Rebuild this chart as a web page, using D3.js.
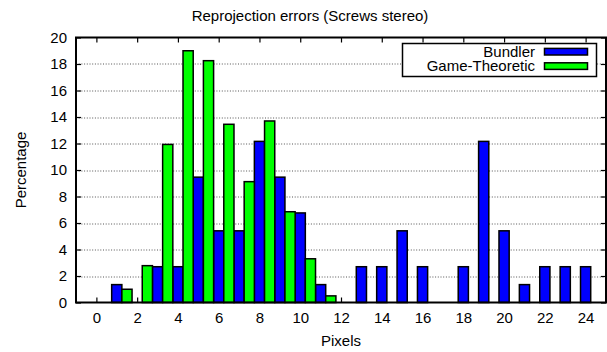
<!DOCTYPE html>
<html>
<head>
<meta charset="utf-8">
<script src="https://cdn.jsdelivr.net/npm/d3@7"></script>
<style>
  body { margin: 0; background: #fff; }
  text { font-family: "Liberation Sans", Arial, sans-serif; font-size: 15px; fill: #000; }
</style>
</head>
<body>
<div id="graph"></div>
<script>
// histogram bins (pixels) and percentages
const bins = [0, 1, 2, 3, 4, 5, 6, 7, 8, 9, 10, 11, 12, 13, 14, 15, 16, 17, 18, 19, 20, 21, 22, 23, 24];
const bundler = [0, 1.35, 0, 2.70, 2.70, 9.46, 5.41, 5.41, 12.16, 9.46, 6.76, 1.35, 0, 2.70, 2.70, 5.41, 2.70, 0, 2.70, 12.16, 5.41, 1.35, 2.70, 2.70, 2.70];
const gameTheoretic = [0, 1.0, 2.78, 11.93, 19.0, 18.25, 13.45, 9.12, 13.7, 6.85, 3.3, 0.5, 0, 0, 0, 0, 0, 0, 0, 0, 0, 0, 0, 0, 0];
const xTicks = [0, 2, 4, 6, 8, 10, 12, 14, 16, 18, 20, 22, 24];
const yTicks = [0, 2, 4, 6, 8, 10, 12, 14, 16, 18, 20];
const seriesNames = ["Bundler", "Game-Theoretic"];
const seriesColors = ["#0000ff", "#00ff00"];

let margin = {top: 37.5, right: 1, bottom: 49.5, left: 76},
    width = 607 - margin.left - margin.right,
    height = 352 - margin.top - margin.bottom;

let svg = d3.select("#graph").append("svg")
    .attr("width", 607)
    .attr("height", 352);

let g = svg.append("g")
    .attr("transform", "translate(" + margin.left + "," + margin.top + ")");

let x = d3.scaleLinear().domain([-1, 25]).range([0, width]);
let y = d3.scaleLinear().domain([0, 20]).range([height, 0]);

// dotted horizontal grid
g.selectAll(".grid").data(yTicks.filter(d => d > 0 && d < 20))
  .enter().append("line")
    .attr("x1", 0).attr("x2", width)
    .attr("y1", d => Math.round(y(d)) + 0.5).attr("y2", d => Math.round(y(d)) + 0.5)
    .attr("stroke", "#555").attr("stroke-width", 1)
    .attr("stroke-dasharray", "1,1.7");

// axes, ticks pointing inward on all four sides
let xb = g.append("g").attr("transform", "translate(0," + height + ")")
    .call(d3.axisBottom(x).tickValues(xTicks).tickSize(-5).tickPadding(10).tickFormat(d3.format("d")));
g.append("g")
    .call(d3.axisTop(x).tickValues(xTicks).tickSize(-5).tickFormat(""));
g.append("g")
    .call(d3.axisLeft(y).tickValues(yTicks).tickSize(-5).tickPadding(9).tickFormat(d3.format("d")));
g.append("g").attr("transform", "translate(" + width + ",0)")
    .call(d3.axisRight(y).tickValues(yTicks).tickSize(-5).tickFormat(""));
g.selectAll(".domain").remove();
g.selectAll(".tick line").attr("stroke", "#000").attr("stroke-width", 1.2);
g.selectAll(".tick text").style("font-family", "'Liberation Sans', Arial, sans-serif").style("font-size", "15px");

// bars: Bundler centred on the bin, Game-Theoretic half a bin to the right
const series = [bundler, gameTheoretic];
series.forEach((vals, si) => {
  g.selectAll(".bar" + si).data(bins.filter((b, i) => vals[i] > 0))
    .enter().append("rect")
      .attr("x", b => x(b - 0.25 + si * 0.5))
      .attr("width", x(0.5) - x(0))
      .attr("y", b => y(vals[b]))
      .attr("height", b => y(0) - y(vals[b]))
      .attr("fill", seriesColors[si])
      .attr("stroke", "#000")
      .attr("stroke-width", 1.5);
});

// border
g.append("rect")
    .attr("x", 0).attr("y", 0).attr("width", width).attr("height", height)
    .attr("fill", "none").attr("stroke", "#000").attr("stroke-width", 2);

// legend
let lg = svg.append("g");
lg.append("rect")
    .attr("x", 402.5).attr("y", 43.5).attr("width", 194).attr("height", 33)
    .attr("fill", "#fff").attr("stroke", "#000").attr("stroke-width", 1.5);
seriesNames.forEach((name, i) => {
  let cy = 51.7 + i * 14.4;
  lg.append("rect")
      .attr("x", 544.5).attr("y", cy - 3.3).attr("width", 43).attr("height", 6.6)
      .attr("fill", seriesColors[i]).attr("stroke", "#000").attr("stroke-width", 1.5);
  lg.append("text")
      .attr("x", 535).attr("y", cy + 5.3)
      .attr("text-anchor", "end")
      .text(name);
});

// title and axis labels
svg.append("text")
    .attr("x", 310).attr("y", 21)
    .attr("text-anchor", "middle")
    .text("Reprojection errors (Screws stereo)");
svg.append("text")
    .attr("x", margin.left + width / 2).attr("y", 346)
    .attr("text-anchor", "middle")
    .text("Pixels");
svg.append("text")
    .attr("transform", "translate(26," + (margin.top + height / 2) + ") rotate(-90)")
    .attr("text-anchor", "middle")
    .text("Percentage");
</script>
</body>
</html>
